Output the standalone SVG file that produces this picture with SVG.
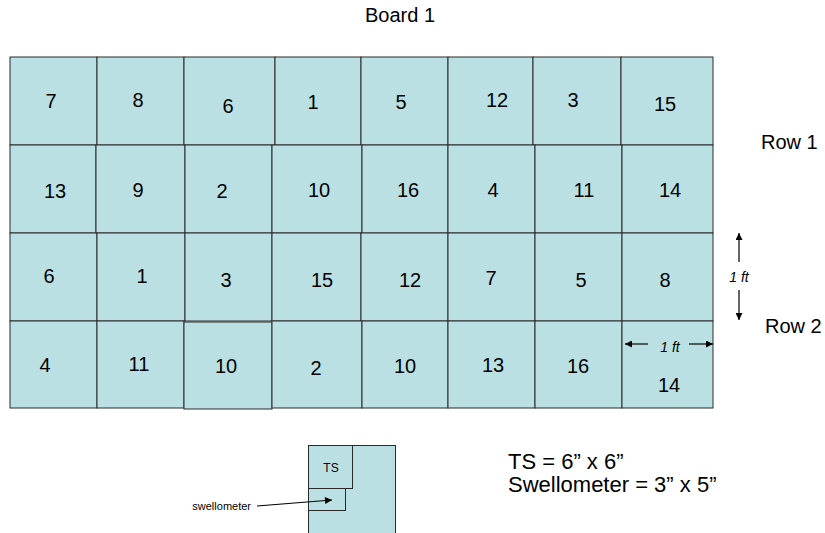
<svg xmlns="http://www.w3.org/2000/svg" width="825" height="533" viewBox="0 0 825 533">
<style>
.b{fill:#bbe0e3;stroke:#2a2a2a;stroke-width:1}
.n{font-family:"Liberation Sans",Arial,sans-serif;font-size:20px;fill:#000;text-anchor:middle}
.l{font-family:"Liberation Sans",Arial,sans-serif;font-size:20px;fill:#000}
.k{font-family:"Liberation Sans",Arial,sans-serif;font-size:22px;fill:#000}
.i{font-family:"Liberation Sans",Arial,sans-serif;font-size:14px;font-style:italic;fill:#000;text-anchor:middle}
.c{stroke:#000;stroke-width:1.2;fill:none}
</style>
<defs>
<marker id="ah" viewBox="0 0 10 10" refX="10" refY="5" markerWidth="8" markerHeight="7" markerUnits="userSpaceOnUse" orient="auto">
<path d="M0,0 L10,5 L0,10 z" fill="#000"/>
</marker>
</defs>
<rect width="825" height="533" fill="#fff"/>
<text class="l" x="365" y="22">Board 1</text>
<text class="l" x="761" y="149">Row 1</text>
<text class="l" x="765" y="333">Row 2</text>

<g id="rowA">
<g id="a1"><rect class="b" x="10" y="57" width="87" height="88"/><text class="n" x="51" y="108">7</text></g>
<g id="a2"><rect class="b" x="97" y="57" width="87" height="88"/><text class="n" x="138" y="107">8</text></g>
<g id="a3"><rect class="b" x="184" y="57" width="91" height="88"/><text class="n" x="228" y="113">6</text></g>
<g id="a4"><rect class="b" x="275" y="57" width="86" height="88"/><text class="n" x="313" y="109">1</text></g>
<g id="a5"><rect class="b" x="361" y="57" width="87" height="88"/><text class="n" x="401" y="109">5</text></g>
<g id="a6"><rect class="b" x="448" y="57" width="85" height="88"/><text class="n" x="497" y="107">12</text></g>
<g id="a7"><rect class="b" x="533" y="57" width="88" height="88"/><text class="n" x="573" y="107">3</text></g>
<g id="a8"><rect class="b" x="621" y="57" width="92" height="88"/><text class="n" x="665" y="111">15</text></g>
</g>
<g id="rowB">
<g id="b1"><rect class="b" x="10" y="145" width="86" height="88"/><text class="n" x="55" y="198">13</text></g>
<g id="b2"><rect class="b" x="96" y="145" width="89" height="88"/><text class="n" x="138" y="197">9</text></g>
<g id="b3"><rect class="b" x="185" y="145" width="87" height="88"/><text class="n" x="222" y="198">2</text></g>
<g id="b4"><rect class="b" x="272" y="145" width="90" height="88"/><text class="n" x="319" y="197">10</text></g>
<g id="b5"><rect class="b" x="362" y="145" width="86" height="88"/><text class="n" x="408" y="197">16</text></g>
<g id="b6"><rect class="b" x="448" y="145" width="87" height="88"/><text class="n" x="493" y="197">4</text></g>
<g id="b7"><rect class="b" x="535" y="145" width="87" height="88"/><text class="n" x="584" y="197">11</text></g>
<g id="b8"><rect class="b" x="622" y="145" width="91" height="88"/><text class="n" x="670" y="197">14</text></g>
</g>
<g id="rowC">
<g id="c1"><rect class="b" x="10" y="233" width="87" height="88"/><text class="n" x="49" y="283">6</text></g>
<g id="c2"><rect class="b" x="97" y="233" width="88" height="88"/><text class="n" x="142" y="283">1</text></g>
<g id="c3"><rect class="b" x="185" y="233" width="87" height="88"/><text class="n" x="226" y="287">3</text></g>
<g id="c4"><rect class="b" x="272" y="233" width="89" height="88"/><text class="n" x="322" y="287">15</text></g>
<g id="c5"><rect class="b" x="361" y="233" width="87" height="88"/><text class="n" x="410" y="287">12</text></g>
<g id="c6"><rect class="b" x="448" y="233" width="87" height="88"/><text class="n" x="491" y="285">7</text></g>
<g id="c7"><rect class="b" x="535" y="233" width="87" height="88"/><text class="n" x="581" y="287">5</text></g>
<g id="c8"><rect class="b" x="622" y="233" width="91" height="88"/><text class="n" x="665" y="287">8</text></g>
</g>
<g id="rowD">
<g id="d1"><rect class="b" x="10" y="321" width="87" height="87"/><text class="n" x="45" y="372">4</text></g>
<g id="d2"><rect class="b" x="97" y="321" width="87" height="87"/><text class="n" x="139" y="371">11</text></g>
<g id="d3"><rect class="b" x="184" y="322" width="88" height="87"/><text class="n" x="226" y="373">10</text></g>
<g id="d4"><rect class="b" x="272" y="321" width="90" height="87"/><text class="n" x="316" y="375">2</text></g>
<g id="d5"><rect class="b" x="362" y="321" width="86" height="87"/><text class="n" x="405" y="373">10</text></g>
<g id="d6"><rect class="b" x="448" y="321" width="87" height="87"/><text class="n" x="493" y="372">13</text></g>
<g id="d7"><rect class="b" x="535" y="321" width="87" height="87"/><text class="n" x="578" y="373">16</text></g>
<g id="d8"><rect class="b" x="622" y="321" width="91" height="87"/><text class="n" x="669" y="392">14</text></g>
</g>

<g id="sample">
<rect class="b" x="308.5" y="445.5" width="87" height="92"/>
<g id="ts"><rect class="b" x="308.5" y="445.5" width="44" height="43"/><text x="331" y="472" font-family="Liberation Sans, Arial, sans-serif" font-size="12" text-anchor="middle">TS</text></g>
<g id="swell"><rect class="b" x="308.5" y="488.5" width="37" height="22"/></g>
</g>
<text x="251" y="510" font-family="Liberation Sans, Arial, sans-serif" font-size="11" text-anchor="end">swellometer</text>

<text class="k" x="508" y="469">TS = 6” x 6”</text>
<text class="k" x="508" y="492">Swellometer = 3” x 5”</text>

<text class="i" x="739" y="282">1 ft</text>
<text class="i" x="670" y="352">1 ft</text>

<g id="connectors">
<line class="c" x1="739" y1="262" x2="739" y2="233" marker-end="url(#ah)"/>
<line class="c" x1="739" y1="290" x2="739" y2="320" marker-end="url(#ah)"/>
<line class="c" x1="648" y1="344" x2="625" y2="344" marker-end="url(#ah)"/>
<line class="c" x1="689" y1="344" x2="713" y2="344" marker-end="url(#ah)"/>
<line class="c" x1="257" y1="506" x2="332" y2="500" marker-end="url(#ah)"/>
</g>
</svg>
